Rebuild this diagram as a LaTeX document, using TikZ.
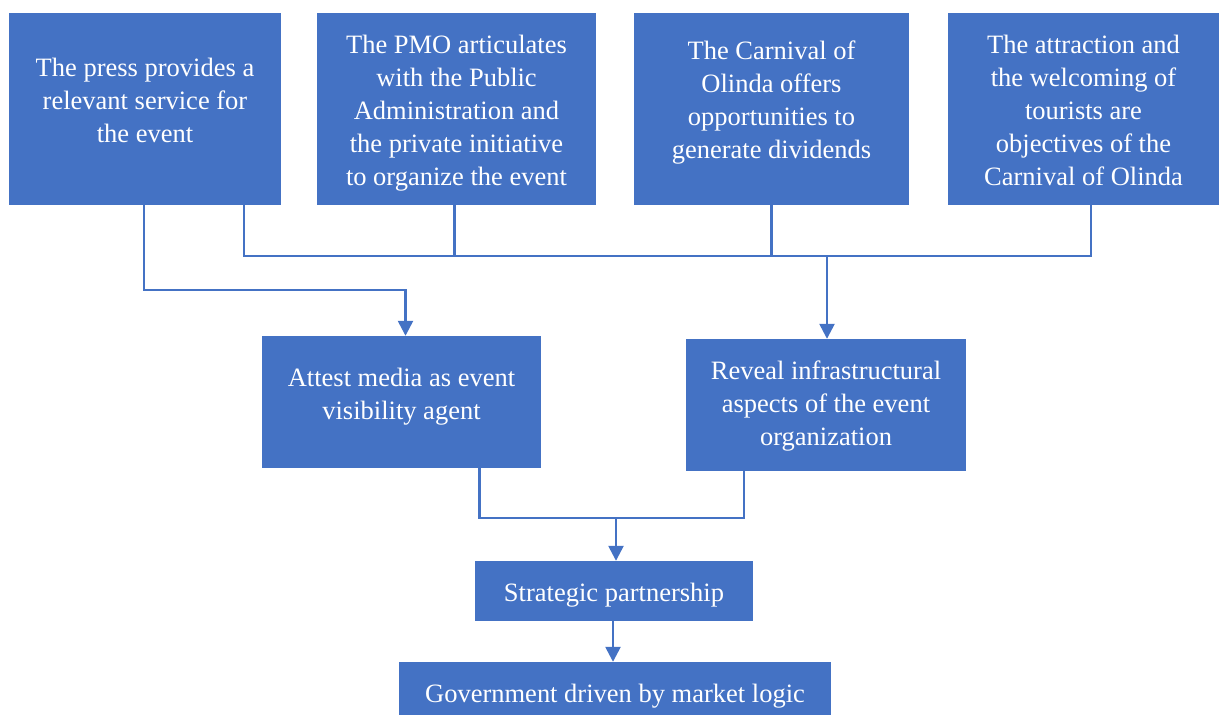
\documentclass[tikz,border=0pt]{standalone}
\usepackage{fontspec}
\setmainfont{Liberation Serif}
\usetikzlibrary{arrows.meta}
\definecolor{boxblue}{HTML}{4472C4}

\begin{document}
\begin{tikzpicture}[x=1pt, y=-1pt,
    box/.style={rectangle, fill=boxblue, inner sep=0pt},
    boxtext/.style={text=white, align=center, inner sep=0pt,
        font=\fontsize{26.5}{32.9}\selectfont,
        execute at begin node=\strut, execute at end node=\strut},
    link/.style={draw=boxblue, line width=2.5pt},
    arrowlink/.style={link, -{Triangle[length=15pt,width=15pt]}}]
        \path[use as bounding box, clip] (0,0) rectangle (1219,715);

        % Four boxes in the top row
        \node[box, minimum width=272pt, minimum height=192pt] (press) at (145,109) {};
        \node[box, minimum width=279pt, minimum height=192pt] (pmo) at (456.5,109) {};
        \node[box, minimum width=275pt, minimum height=192pt] (carnival) at (771.5,109) {};
        \node[box, minimum width=274pt, minimum height=192pt] (tourists) at (1085,109) {};
        \node[boxtext] (pressT) at (145,105) {The press provides a\\relevant service for\\the event};
        \node[boxtext] (pmoT) at (456.5,115) {The PMO articulates\\with the Public\\Administration and\\the private initiative\\to organize the event};
        \node[boxtext] (carnivalT) at (771.5,104.5) {The Carnival of\\Olinda offers\\opportunities to\\generate dividends};
        \node[boxtext] (touristsT) at (1083.5,115) {The attraction and\\the welcoming of\\tourists are\\objectives of the\\Carnival of Olinda};

        % Middle row
        \node[box, minimum width=279pt, minimum height=132pt] (attest) at (401.5,402) {};
        \node[box, minimum width=280pt, minimum height=132pt] (reveal) at (826,405) {};
        \node[boxtext] (attestT) at (401.5,398.5) {Attest media as event\\visibility agent};
        \node[boxtext] (revealT) at (826,408) {Reveal infrastructural\\aspects of the event\\organization};

        % Bottom boxes
        \node[box, minimum width=278pt, minimum height=60pt] (strategic) at (614,591) {};
        \node[box, minimum width=432pt, minimum height=60pt] (govt) at (615,692) {};
        \node[boxtext] (strategicT) at (614,594.5) {Strategic partnership};
        \node[boxtext] (govtT) at (615,696.2) {Government driven by market logic};

        % Junction points
        \coordinate (busL) at (244,256);
        \coordinate (busR) at (1091,256);
        \coordinate (join) at (616,518);

        % Press to media box
        \draw[arrowlink] ([xshift=-1pt]press.south) -- ++(0,85) -| ([xshift=4pt]attest.north);

        % Top row collected on one line
        \draw[link] ([xshift=99pt]press.south) |- (busR) -- (busR |- tourists.south);
        \draw[link] ([xshift=-2pt]pmo.south) -- ([xshift=-2pt]pmo.south |- busL);
        \draw[link] (carnival.south) -- (carnival.south |- busL);
        \draw[arrowlink] ([xshift=1pt]reveal.north |- busL) -- ([xshift=1pt]reveal.north);

        % Middle row joined into partnership
        \draw[link] ([xshift=78pt]attest.south) |- (join) -| ([xshift=-82pt]reveal.south);
        \draw[arrowlink] (join) -- (join |- strategic.north);
        \draw[arrowlink] ([xshift=-1pt]strategic.south) -- ([xshift=-1pt]strategic.south |- govt.north);
\end{tikzpicture}
\end{document}
